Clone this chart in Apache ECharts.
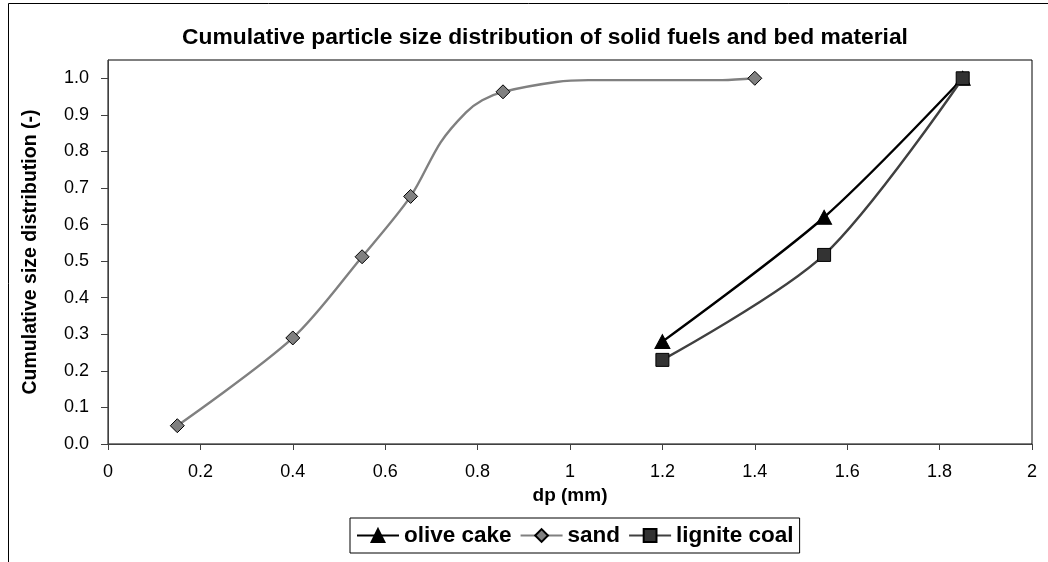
<!DOCTYPE html>
<html>
<head>
<meta charset="utf-8">
<script src="https://cdn.jsdelivr.net/npm/echarts@6/dist/echarts.min.js"></script>
<style>
  html, body { margin: 0; padding: 0; background: #fff; }
  #chart { width: 1048px; height: 562px; }
</style>
</head>
<body>
<div id="chart"></div>
<script>
// Cumulative particle size distribution: sieve results (dp in mm, cumulative fraction)
const sandDp     = [0.15, 0.40, 0.55, 0.655, 0.72, 0.775, 0.81, 0.855, 0.97, 1.04, 1.33, 1.40];
const sandCum    = [0.05, 0.29, 0.512, 0.677, 0.825, 0.907, 0.94, 0.963, 0.99, 0.995, 0.995, 1.0];
const sandMarked = [true, true, true, true, false, false, false, true, false, false, false, true];

const oliveDp  = [1.20, 1.55, 1.85];
const oliveCum = [0.28, 0.62, 1.0];

const ligniteDp  = [1.20, 1.55, 1.85];
const ligniteCum = [0.23, 0.517, 1.0];

const yTicks = [0.0, 0.1, 0.2, 0.3, 0.4, 0.5, 0.6, 0.7, 0.8, 0.9, 1.0];
const xTicks = [0, 0.2, 0.4, 0.6, 0.8, 1, 1.2, 1.4, 1.6, 1.8, 2];

const FONT = "'Liberation Sans', Arial, sans-serif";

const pairs = (xs, ys) => xs.map((x, i) => [x, ys[i]]);

const sandData = sandDp.map((x, i) => sandMarked[i]
  ? { value: [x, sandCum[i]] }
  : { value: [x, sandCum[i]], symbol: 'none' });

const chart = echarts.init(document.getElementById('chart'), null, { renderer: 'canvas' });

chart.setOption({
  animation: false,
  backgroundColor: '#fff',
  title: {
    text: 'Cumulative particle size distribution of solid fuels and bed material',
    left: 540, top: 21, textAlign: 'center',
    textStyle: { fontFamily: FONT, fontSize: 22.8, fontWeight: 'bold', color: '#000' }
  },
  graphic: [{
    type: 'rect', silent: true, z: -1,
    shape: { x: 8.5, y: 3.5, width: 1100, height: 600 },
    style: { fill: 'none', stroke: '#000', lineWidth: 1 }
  }],
  grid: {
    left: 108, right: 16, top: 60, bottom: 118,
    show: true, borderColor: '#000', borderWidth: 1, backgroundColor: 'transparent'
  },
  legend: {
    left: 350, top: 518,
    padding: [6, 6], itemGap: 8, itemWidth: 42, itemHeight: 16,
    borderColor: '#000', borderWidth: 1, backgroundColor: '#fff',
    textStyle: { fontFamily: FONT, fontSize: 22.5, fontWeight: 'bold', color: '#000' },
    data: ['olive cake', 'sand', 'lignite coal']
  },
  xAxis: {
    type: 'value', min: 0, max: 2, interval: 0.2,
    name: 'dp (mm)', nameLocation: 'middle', nameGap: 42,
    nameTextStyle: { fontFamily: FONT, fontSize: 19, fontWeight: 'bold', color: '#000' },
    axisLine: { show: true, onZero: false, lineStyle: { color: '#404040', width: 1 } },
    axisTick: { show: true, inside: false, length: 6, lineStyle: { color: '#404040' } },
    axisLabel: {
      margin: 19, fontFamily: FONT, fontSize: 18, color: '#000',
      formatter: v => String(xTicks.find(t => Math.abs(t - v) < 1e-9) ?? v)
    },
    splitLine: { show: false }
  },
  yAxis: {
    type: 'value', min: 0, max: 1.05,
    name: 'Cumulative size distribution (-)', nameLocation: 'middle', nameGap: 67,
    nameTextStyle: { fontFamily: FONT, fontSize: 19.5, fontWeight: 'bold', color: '#000' },
    axisLine: { show: true, lineStyle: { color: '#404040', width: 1 } },
    axisTick: { show: true, inside: false, length: 7, customValues: yTicks, lineStyle: { color: '#404040' } },
    axisLabel: {
      margin: 19, fontFamily: FONT, fontSize: 18, color: '#000',
      customValues: yTicks, formatter: v => v.toFixed(1)
    },
    splitLine: { show: false }
  },
  series: [
    {
      name: 'olive cake', type: 'line', smooth: 0.3,
      data: pairs(oliveDp, oliveCum),
      symbol: 'triangle', symbolSize: [15, 14],
      lineStyle: { color: '#000', width: 2.4 },
      itemStyle: { color: '#000', borderColor: '#000', borderWidth: 1 },
      z: 2
    },
    {
      name: 'sand', type: 'line', smooth: 0.3,
      data: sandData,
      symbol: 'diamond', symbolSize: 14,
      lineStyle: { color: '#808080', width: 2.4 },
      itemStyle: { color: '#808080', borderColor: '#000', borderWidth: 1 },
      z: 3
    },
    {
      name: 'lignite coal', type: 'line', smooth: 0.3,
      data: pairs(ligniteDp, ligniteCum),
      symbol: 'rect', symbolSize: 13,
      lineStyle: { color: '#404040', width: 2.4 },
      itemStyle: { color: '#333333', borderColor: '#000', borderWidth: 1 },
      z: 4
    }
  ]
});
</script>
</body>
</html>
